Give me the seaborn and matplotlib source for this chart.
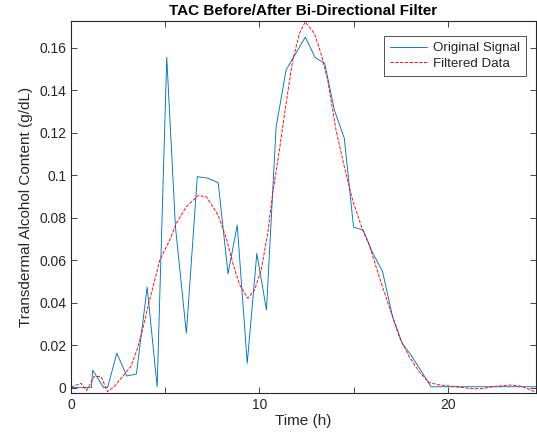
import matplotlib
matplotlib.use("Agg")
import matplotlib.pyplot as plt
from matplotlib.ticker import MultipleLocator, FuncFormatter
import pandas as pd
import seaborn as sns

# raw TAC readings (hours, g/dL)
raw_time = [0.0, 0.55, 1.08, 1.15, 1.73, 1.94, 2.43, 2.96, 3.47, 4.04, 4.57,
            5.08, 5.54, 6.12, 6.70, 7.27, 7.81, 8.33, 8.82, 9.35, 9.86, 10.37,
            10.88, 11.41, 11.90, 12.43, 12.96, 13.46, 13.97, 14.50, 14.99,
            15.50, 16.00, 16.53, 17.06, 17.58, 18.03, 18.55, 19.10, 19.60,
            20.10, 20.60, 21.10, 21.60, 22.10, 22.60, 23.10, 23.60, 24.10, 24.67]
raw_tac = [0.0, 0.0, 0.0, 0.0082, 0.0, 0.0, 0.0162, 0.0055, 0.0064, 0.0473, 0.0004,
           0.1555, 0.0758, 0.0256, 0.0993, 0.0986, 0.0965, 0.0536, 0.0765, 0.0115,
           0.0632, 0.0366, 0.1225, 0.1495, 0.1570, 0.1650, 0.1553, 0.1527, 0.1307,
           0.1174, 0.0755, 0.0742, 0.0635, 0.0546, 0.0334, 0.0206, 0.0154, 0.0082,
           0.0004, 0.0004, 0.0004, 0.0004, 0.0004, 0.0004, 0.0004, 0.0004, 0.0004,
           0.0004, 0.0004, 0.0004]

# filtered curve
filt_time = [0.0, 0.53, 0.83, 1.23, 1.59, 1.94, 2.29, 2.73, 3.17, 3.53, 3.79, 4.04,
             4.71, 5.24, 5.59, 6.12, 6.74, 7.18, 7.80, 8.24, 8.59, 8.94, 9.38, 9.74,
             10.09, 10.44, 10.70, 11.06, 11.41, 11.76, 12.12, 12.43, 12.91, 13.26,
             13.62, 14.06, 14.50, 14.94, 15.47, 15.82, 16.35, 16.88, 17.41, 17.94,
             18.47, 19.00, 19.52, 20.23, 20.80, 21.29, 21.80, 22.52, 23.32, 23.93,
             24.37, 24.64]
filt_tac = [0.0002, 0.0020, -0.0014, 0.0052, 0.0052, -0.0019, 0.0005, 0.0052, 0.0099,
            0.0185, 0.0270, 0.0366, 0.0600, 0.0695, 0.0774, 0.0852, 0.0904, 0.0899,
            0.0813, 0.0703, 0.0585, 0.0485, 0.0421, 0.0460, 0.0554, 0.0727, 0.0915,
            0.1120, 0.1338, 0.1540, 0.1668, 0.1722, 0.1668, 0.1574, 0.1448, 0.1213,
            0.1040, 0.0883, 0.0742, 0.0672, 0.0522, 0.0381, 0.0240, 0.0146, 0.0075,
            0.0024, 0.0013, 0.0006, 0.0000, -0.0005, -0.0005, 0.0006, 0.0012, 0.0006,
            -0.0010, -0.0022]

raw = pd.DataFrame({"time": raw_time, "tac": raw_tac})
filt = pd.DataFrame({"time": filt_time, "tac": filt_tac})

sns.set_style("ticks")
plt.rcParams["font.family"] = ["Liberation Sans", "DejaVu Sans"]

fig = plt.figure(figsize=(5.37, 4.4), dpi=100)
ax = fig.add_axes([71 / 537, 47.3 / 440, 465 / 537, 371.7 / 440])

sns.lineplot(data=raw, x="time", y="tac", ax=ax, color="#0072BD", linewidth=0.65,
             label="Original Signal", sort=False, estimator=None)
sns.lineplot(data=filt, x="time", y="tac", ax=ax, color="#FF0000", linewidth=0.65,
             linestyle="--", dashes=(3, 2), label="Filtered Data", sort=False,
             estimator=None)

ax.set_xlim(0, 24.67)
ax.set_ylim(-0.0024, 0.1726)
ax.xaxis.set_major_locator(MultipleLocator(10))
ax.xaxis.set_minor_locator(MultipleLocator(5))
ax.yaxis.set_major_locator(MultipleLocator(0.02))
ax.yaxis.set_major_formatter(FuncFormatter(lambda v, p: "0" if abs(v) < 1e-9 else "%g" % round(v, 2)))

edge = "#262626"
for s in ax.spines.values():
    s.set_color(edge)
    s.set_linewidth(0.8)
ax.tick_params(which="both", direction="in", top=True, right=True, colors=edge,
               labelcolor=edge, labelsize=10, width=0.6)
ax.tick_params(which="major", length=4)
ax.tick_params(which="minor", length=4)

ax.set_xlabel("Time (h)", fontsize=11, color=edge, labelpad=2)
ax.set_ylabel("Transdermal Alcohol Content (g/dL)", fontsize=11, color=edge, labelpad=4)
ax.set_title("TAC Before/After Bi-Directional Filter", fontsize=11, fontweight="bold",
             color="black", pad=4)

leg = ax.legend(loc="upper right", bbox_to_anchor=(0.978, 0.96), borderaxespad=0,
                fontsize=9.6, frameon=True, fancybox=False, edgecolor=edge,
                handlelength=2.8, borderpad=0.45, labelspacing=0.25, handletextpad=0.4)
leg.get_frame().set_linewidth(0.7)

fig.savefig("out.png", dpi=100)
